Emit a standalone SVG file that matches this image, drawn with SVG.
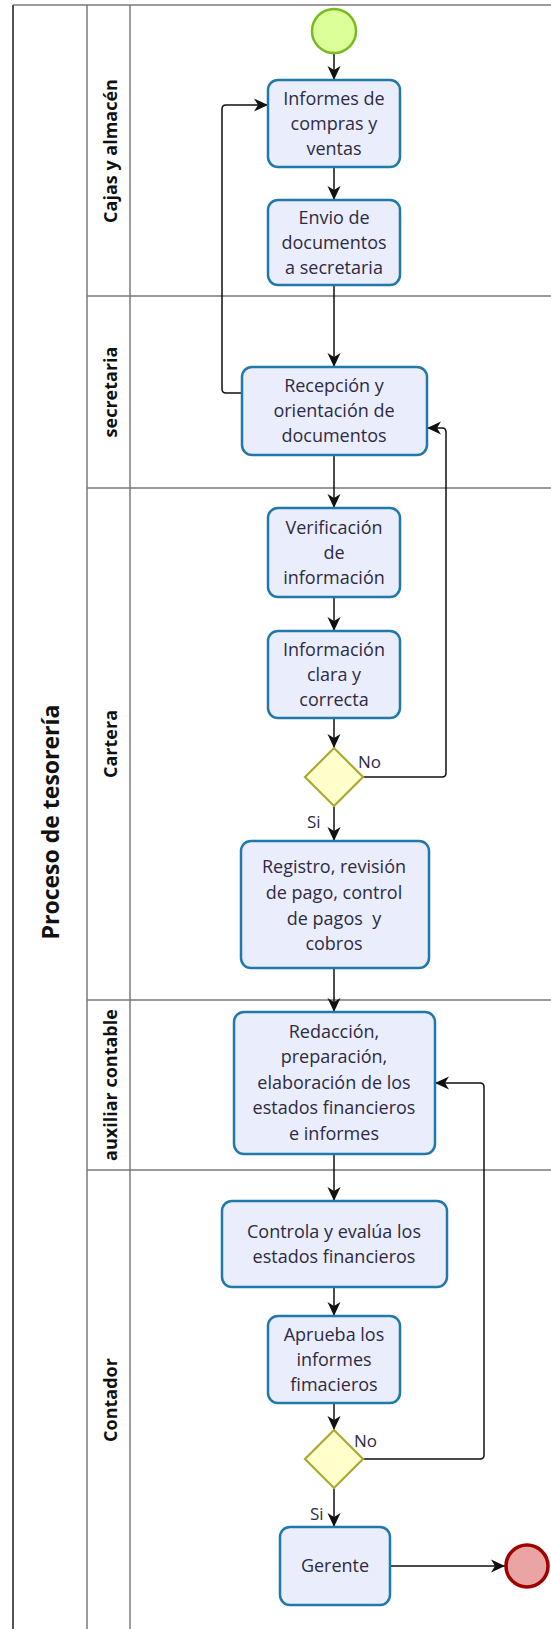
<svg xmlns="http://www.w3.org/2000/svg" width="551" height="1629" viewBox="0 0 551 1629">
<style>
.task{fill:#eaeefc;stroke:#2079a8;stroke-width:2.5}
.gw{fill:#ffffcc;stroke:#aaaa33;stroke-width:2.2}
.t{font-family:"Open Sans","Noto Sans",sans-serif;font-size:18px;fill:#2e2a44;text-anchor:middle}
.lbl{font-family:"Open Sans","Noto Sans",sans-serif;font-size:17px;fill:#2e2a44}
.lane{font-family:"Open Sans","Noto Sans",sans-serif;font-size:18px;font-weight:bold;fill:#111;text-anchor:middle;dominant-baseline:central}
.pool{font-family:"Open Sans","Noto Sans",sans-serif;font-size:23px;font-weight:bold;fill:#111;text-anchor:middle;dominant-baseline:central}
.ln{stroke:#7a7a7a;stroke-width:1.5;fill:none}
.c{stroke:#111;stroke-width:1.5;fill:none;marker-end:url(#ah)}
</style>
<defs>
<marker id="ah" markerUnits="userSpaceOnUse" markerWidth="16" markerHeight="16" viewBox="0 0 16 16" refX="15" refY="8" orient="auto">
<path d="M1,1.5 L15,8 L1,14.5 L5,8 z" fill="#111"/>
</marker>
</defs>
<rect width="551" height="1629" fill="#fff"/>
<g id="pool">
<line x1="13" y1="5" x2="551" y2="5" class="ln"/>
<line x1="13" y1="5" x2="13" y2="1629" stroke="#555" stroke-width="2"/>
<line x1="87" y1="5" x2="87" y2="1629" class="ln"/>
<line x1="130" y1="5" x2="130" y2="1629" class="ln"/>
<line x1="87" y1="296" x2="551" y2="296" class="ln"/>
<line x1="87" y1="488" x2="551" y2="488" class="ln"/>
<line x1="87" y1="1000" x2="551" y2="1000" class="ln"/>
<line x1="87" y1="1170" x2="551" y2="1170" class="ln"/>
<text class="pool" transform="translate(50,822) rotate(-90)">Proceso de tesorería</text>
<text class="lane" transform="translate(110,151) rotate(-90)">Cajas y almacén</text>
<text class="lane" transform="translate(110,392) rotate(-90)">secretaria</text>
<text class="lane" transform="translate(110,744) rotate(-90)">Cartera</text>
<text class="lane" transform="translate(110,1085) rotate(-90)">auxiliar contable</text>
<text class="lane" transform="translate(110,1400) rotate(-90)">Contador</text>
</g>
<g id="connectors">
<path class="c" d="M334,53 V80"/>
<path class="c" d="M334,167 V200"/>
<path class="c" d="M334,285 V367"/>
<path class="c" d="M242,393 H226 Q222,393 222,389 V109 Q222,105 226,105 H268"/>
<path class="c" d="M334,455 V508"/>
<path class="c" d="M334,597 V631"/>
<path class="c" d="M334,718 V748"/>
<path class="c" d="M363,777 H442 Q446,777 446,773 V432 Q446,428 442,428 H427"/>
<path class="c" d="M334,806 V841"/>
<path class="c" d="M334,968 V1012"/>
<path class="c" d="M334,1154 V1201"/>
<path class="c" d="M334,1287 V1316"/>
<path class="c" d="M334,1403 V1430"/>
<path class="c" d="M363,1459 H480 Q484,1459 484,1455 V1087 Q484,1083 480,1083 H435"/>
<path class="c" d="M334,1488 V1527"/>
<path class="c" d="M390,1566 H505"/>
<text class="lbl" x="358" y="768">No</text>
<text class="lbl" x="307" y="828">Si</text>
<text class="lbl" x="354" y="1447">No</text>
<text class="lbl" x="310" y="1520">Si</text>
</g>
<g id="start"><circle cx="334" cy="31" r="22" fill="#ddff99" stroke="#77bb22" stroke-width="2.5"/></g>
<g id="n1"><rect class="task" x="268" y="80" width="132" height="87" rx="10"/>
<text class="t" x="334" y="105">Informes de</text><text class="t" x="334" y="130">compras y</text><text class="t" x="334" y="155">ventas</text></g>
<g id="n2"><rect class="task" x="268" y="200" width="132" height="85" rx="10"/>
<text class="t" x="334" y="224">Envio de</text><text class="t" x="334" y="249">documentos</text><text class="t" x="334" y="274">a secretaria</text></g>
<g id="n3"><rect class="task" x="242" y="367" width="185" height="88" rx="10"/>
<text class="t" x="334" y="392">Recepción y</text><text class="t" x="334" y="417">orientación de</text><text class="t" x="334" y="442">documentos</text></g>
<g id="n4"><rect class="task" x="268" y="508" width="132" height="89" rx="10"/>
<text class="t" x="334" y="534">Verificación</text><text class="t" x="334" y="559">de</text><text class="t" x="334" y="584">información</text></g>
<g id="n5"><rect class="task" x="268" y="631" width="132" height="87" rx="10"/>
<text class="t" x="334" y="656">Información</text><text class="t" x="334" y="681">clara y</text><text class="t" x="334" y="706">correcta</text></g>
<g id="g1"><polygon class="gw" points="334,748 363,777 334,806 305,777"/></g>
<g id="n6"><rect class="task" x="241" y="841" width="188" height="127" rx="10"/>
<text class="t" x="334" y="873">Registro, revisión</text><text class="t" x="334" y="899">de pago, control</text><text class="t" x="334" y="925" xml:space="preserve">de pagos  y</text><text class="t" x="334" y="950">cobros</text></g>
<g id="n7"><rect class="task" x="234" y="1012" width="201" height="142" rx="10"/>
<text class="t" x="334" y="1038">Redacción,</text><text class="t" x="334" y="1063">preparación,</text><text class="t" x="334" y="1089">elaboración de los</text><text class="t" x="334" y="1114">estados financieros</text><text class="t" x="334" y="1140">e informes</text></g>
<g id="n8"><rect class="task" x="222" y="1201" width="225" height="86" rx="10"/>
<text class="t" x="334" y="1238">Controla y evalúa los</text><text class="t" x="334" y="1263">estados financieros</text></g>
<g id="n9"><rect class="task" x="268" y="1316" width="132" height="87" rx="10"/>
<text class="t" x="334" y="1341">Aprueba los</text><text class="t" x="334" y="1366">informes</text><text class="t" x="334" y="1391">fimacieros</text></g>
<g id="g2"><polygon class="gw" points="334,1430 363,1459 334,1488 305,1459"/></g>
<g id="n10"><rect class="task" x="280" y="1527" width="110" height="78" rx="10"/>
<text class="t" x="335" y="1572">Gerente</text></g>
<g id="end"><circle cx="527" cy="1566" r="21" fill="#eaa4a4" stroke="#a00000" stroke-width="3.5"/></g>
</svg>
